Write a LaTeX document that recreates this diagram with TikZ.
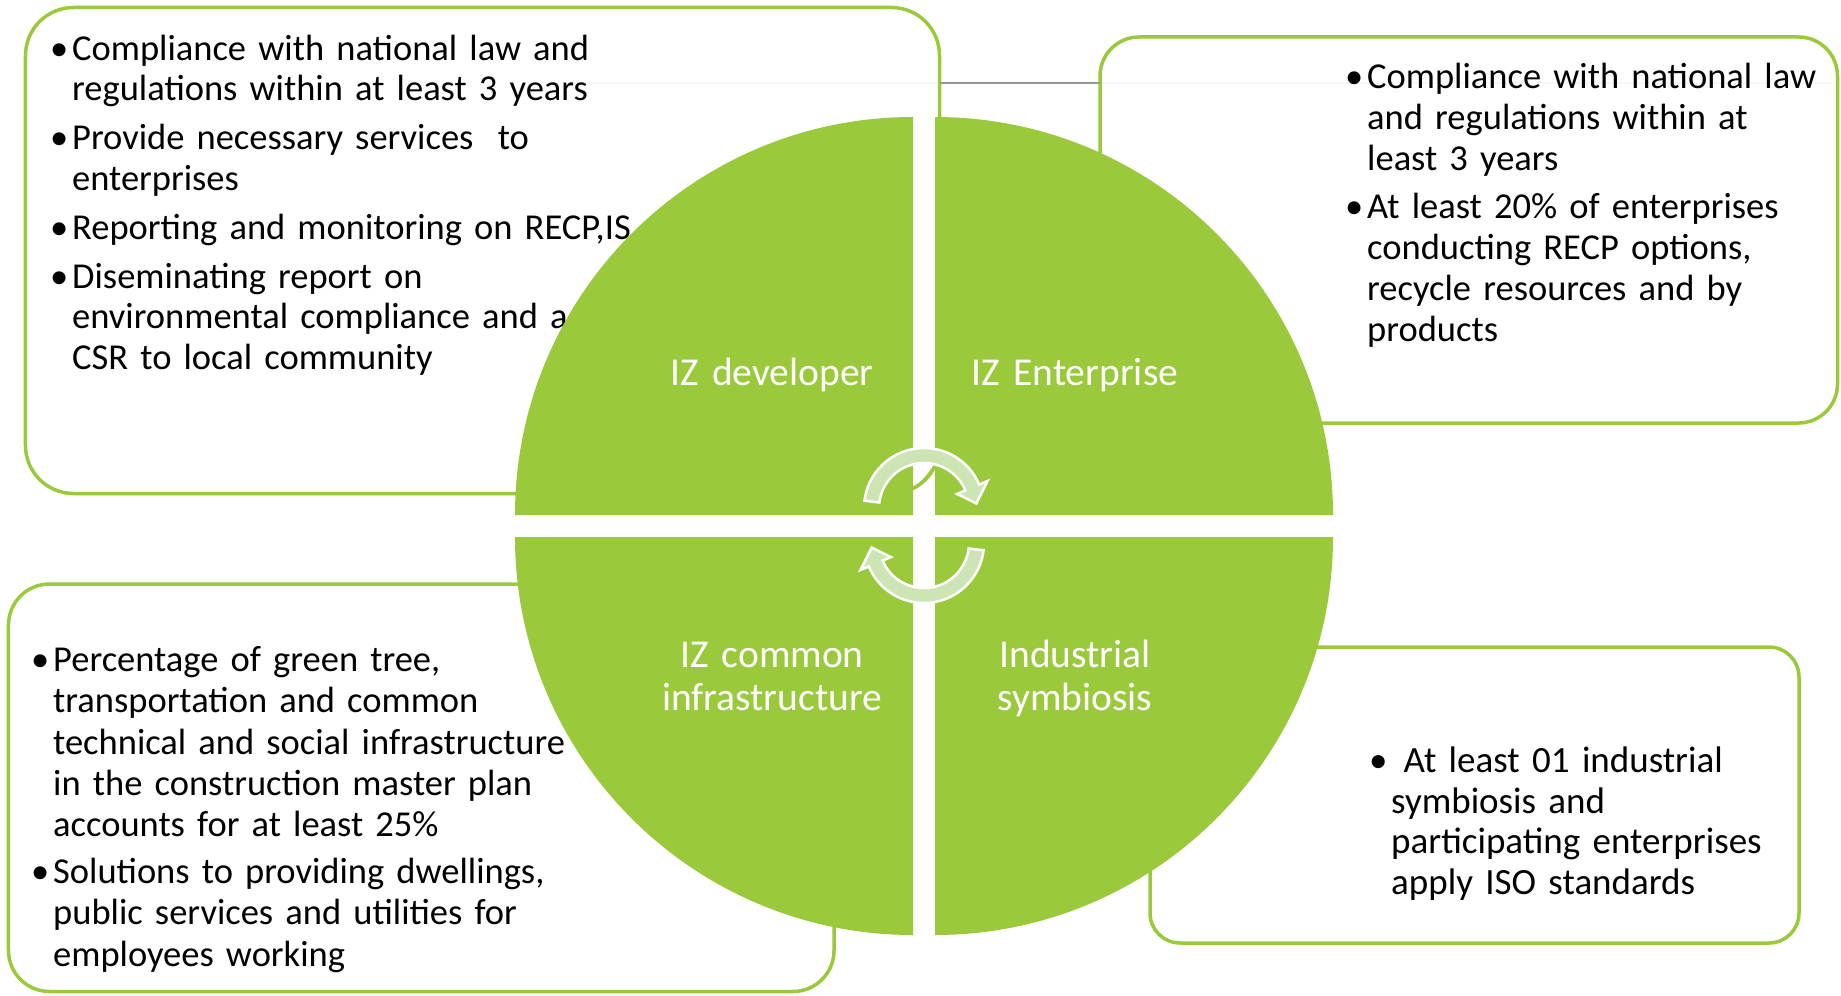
\documentclass[tikz,border=0pt]{standalone}
\usepackage{fontspec}
\setmainfont{Carlito}
\usetikzlibrary{calc}
\definecolor{izgreen}{RGB}{154,202,60}
\definecolor{arrowgreen}{RGB}{205,228,180}
\definecolor{conngray}{RGB}{150,150,150}
\newcommand\bul[1]{\noindent\makebox[22bp][l]{\textbullet}\parbox[t]{860bp}{\strut#1\strut}}
\newcommand\bodyfont[3]{\fontsize{#1}{#2}\selectfont\setlength{\parskip}{#3}\setlength{\lineskip}{0pt}}
\tikzset{
  box/.style={draw=izgreen, line width=3.5bp, fill=white, fill opacity=0.93, draw opacity=1, outer sep=0pt, inner sep=0pt},
  body/.style={anchor=north west, inner sep=0pt, text width=900bp, align=left, text=black,
    font=\bodyfont{36.5bp}{40.5bp}{8.5bp}},
  lbl/.style={anchor=north, inner sep=0pt, text width=320bp, align=center, text=white,
    font=\fontsize{39.5bp}{43.3bp}\selectfont},
  pie/.style={fill=izgreen},
  cyc/.style={fill=arrowgreen, draw=white, line width=2.5bp, line join=miter},
  conn/.style={draw=conngray, line width=1.8bp}
}
\begin{document}
\begin{tikzpicture}[x=1bp, y=-1bp]
\useasboundingbox (0,0) rectangle (1841,995);
% faint connector running behind the boxes
\coordinate (fa) at (582,83);
\coordinate (fb) at (1836,83);
\coordinate (lineY) at (0,83);
\draw[conn] (fa) -- (fb);
% boxes
\node[box, minimum width=914bp, minimum height=486bp, rounded corners=48bp] (tlbox) at (482.5,250.5) {};
\node[box, minimum width=737.5bp, minimum height=386bp, rounded corners=39bp] (trbox) at (1468.75,230) {};
\node[box, minimum width=825.5bp, minimum height=407.5bp, rounded corners=41bp] (blbox) at (421.25,787.75) {};
\node[box, minimum width=649bp, minimum height=296bp, rounded corners=30bp] (brbox) at (1474.5,795) {};
% connector between the two upper boxes
\draw[conn] (tlbox.east |- lineY) -- (trbox.west |- lineY);
% texts
\node[body] (tltext) at (50,31.65) {%
\bul{Compliance with national law and\\regulations within at least 3 years}\par
\bul{Provide necessary services\ \ to\\enterprises}\par
\bul{Reporting and monitoring on RECP,IS}\par
\bul{Diseminating report on\\environmental compliance and a\\CSR to local community}};
\node[body, font=\bodyfont{36.5bp}{41bp}{7.5bp}] (trtext) at (1345,59.5) {%
\bul{Compliance with national law\\and regulations within at\\least 3 years}\par
\bul{At least 20\% of enterprises\\conducting RECP options,\\recycle resources and by\\products}};
\node[body, font=\bodyfont{36.5bp}{41.2bp}{6bp}] (bltext) at (31,642.7) {%
\bul{Percentage of green tree,\\transportation and common\\technical and social infrastructure\\in the construction master plan\\accounts for at least 25\%}\par
\bul{Solutions to providing dwellings,\\public services and utilities for\\employees working}};
\node[body, font=\bodyfont{37bp}{40.7bp}{8bp}] (brtext) at (1369,743.65) {%
\bul{\ At least 01 industrial\\symbiosis and\\participating enterprises\\apply ISO standards}};
% quarter discs
\fill[pie] (913,515) -- ++(180:398) arc (180:270:398) -- cycle;
\fill[pie] (935,515) -- ++(270:398) arc (270:360:398) -- cycle;
\fill[pie] (935,537) -- ++(0:398) arc (0:90:398) -- cycle;
\fill[pie] (913,537) -- ++(90:398) arc (90:180:398) -- cycle;
% quadrant labels
\node[lbl] (q1) at (772,354.7) {\strut IZ developer};
\node[lbl] (q2) at (1075,354.7) {\strut IZ Enterprise};
\node[lbl] (q3) at (772,636.7) {\strut IZ common\\infrastructure};
\node[lbl] (q4) at (1075,636.7) {\strut Industrial\\symbiosis};
% cycle arrows
\coordinate (c1) at (924,508);
\coordinate (c2) at (924,543);
\filldraw[cyc] ($(c1)+(187:60)$) arc (187:337:60) -- ($(c1)+(337:69)$) -- ($(c1)+(355:52.5)$)
  -- ($(c1)+(337:36)$) -- ($(c1)+(337:45)$) arc (337:187:45) -- cycle;
\filldraw[cyc] ($(c2)+(7:60)$) arc (7:157:60) -- ($(c2)+(157:69)$) -- ($(c2)+(175:52.5)$)
  -- ($(c2)+(157:36)$) -- ($(c2)+(157:45)$) arc (157:7:45) -- cycle;
\fill[pie] (931.5,468) .. controls (930,477) and (924,484) .. (915.5,489)
  .. controls (921,480) and (927,476) .. (931.5,468) -- cycle;
\end{tikzpicture}
\end{document}
